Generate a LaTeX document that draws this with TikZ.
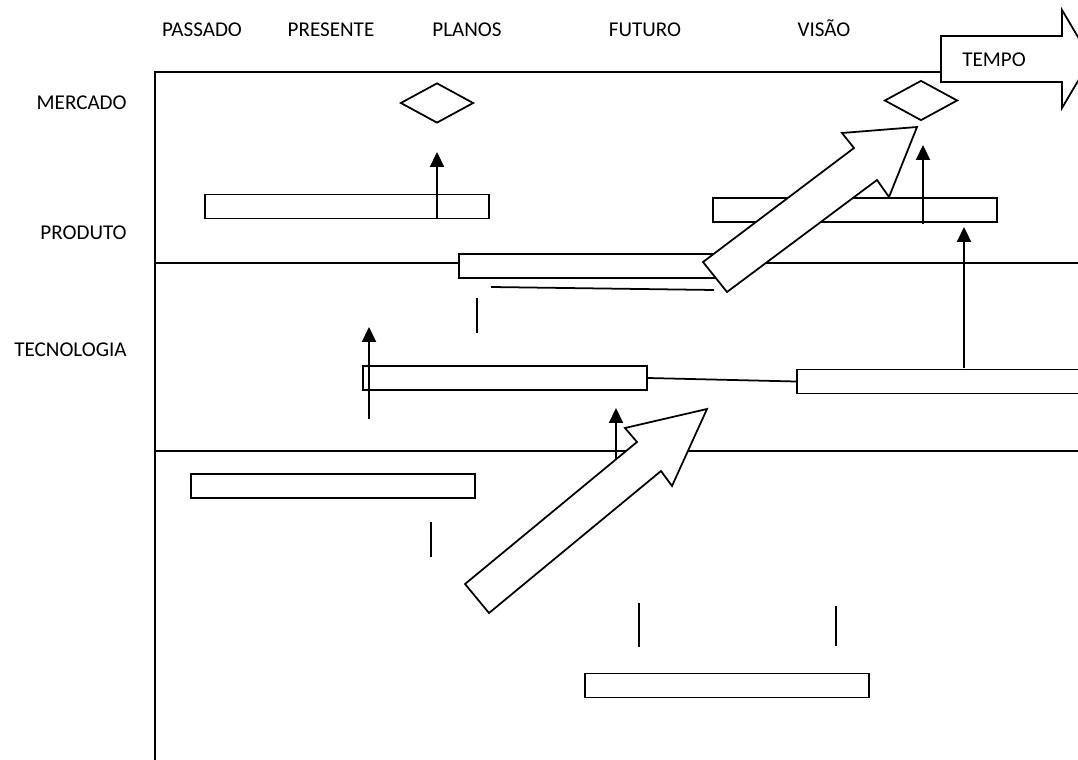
\documentclass[tikz,border=0pt]{standalone}
\usepackage{fontspec}
\setmainfont{Carlito}
\usetikzlibrary{arrows.meta,shapes.geometric}

\tikzset{
  bar/.style={draw, fill=white, line width=1.1pt, minimum width=5.68cm, minimum height=0.48cm, inner sep=0pt},
  gem/.style={draw, shape=diamond, fill=white, line width=1pt, minimum width=1.46cm, minimum height=0.8cm, inner sep=0pt},
  label/.style={font=\fontsize{12}{14}\selectfont, inner sep=0pt},
  up/.style={line width=1pt, -{Triangle[length=8.5pt, width=8pt]}},
  tick/.style={line width=1pt},
  bigarrow/.style={draw, fill=white, line width=1pt, line join=miter}
}

\begin{document}
\begin{tikzpicture}[x=0.02cm, y=-0.02cm]
  \clip (0,0) rectangle (1078,760);

  % Heading
  \node[label, anchor=base] (passado) at (202,37) {PASSADO};
  \node[label, anchor=base] (presente) at (331,37) {PRESENTE};
  \node[label, anchor=base] (planos) at (467,37) {PLANOS};
  \node[label, anchor=base] (futuro) at (645,37) {FUTURO};
  \node[label, anchor=base] (visao) at (824,37) {VISÃO};

  \node[label, anchor=east] (mercado) at (127,103) {MERCADO};
  \node[label, anchor=east] (produto) at (127,233) {PRODUTO};
  \node[label, anchor=east] (tecnologia) at (127,350) {TECNOLOGIA};

  % Grid
  \coordinate (g0) at (155,72);
  \coordinate (g1) at (941,72);
  \coordinate (g2) at (155,263);
  \coordinate (g3) at (1078,263);
  \coordinate (g4) at (155,451);
  \coordinate (g5) at (1078,451);
  \coordinate (g6) at (155,760);

  \draw[line width=1.1pt] (g1) -- (g0) -- (g6);
  \draw[line width=1.1pt] (g2) -- (g3);
  \draw[line width=1.1pt] (g4) -- (g5);

  % Tempo
  \draw[bigarrow] (941,36) -- (1062,36) -- (1062,10) -- (1091,59)
    -- (1062,108) -- (1062,82) -- (941,82) -- cycle;
  \node[label] (tempo) at (994,60) {TEMPO};

  % Bars
  \node[bar] (b1) at (347,206.5) {};
  \node[bar] (b2) at (855,210) {};
  \node[bar] (b3) at (601,266) {};
  \node[bar] (b4) at (505,378) {};
  \node[bar] (b5) at (939,381.5) {};
  \node[bar] (b6) at (333,486) {};
  \node[bar] (b7) at (727,685.5) {};

  \node[gem] (d1) at (437,103) {};
  \node[gem] (d2) at (921,100.5) {};

  % Ticks
  \coordinate (t1a) at (491,287);
  \coordinate (t1b) at (714,290);
  \coordinate (t2a) at (477,298);
  \coordinate (t2b) at (477,333);
  \coordinate (t3a) at (431,522);
  \coordinate (t3b) at (431,557);
  \coordinate (t4a) at (639,603);
  \coordinate (t4b) at (639,647);
  \coordinate (t5a) at (836,606);
  \coordinate (t5b) at (836,646);

  \draw[tick] (t1a) -- (t1b);
  \draw[tick] (t2a) -- (t2b);
  \draw[tick] (t3a) -- (t3b);
  \draw[tick] (t4a) -- (t4b);
  \draw[tick] (t5a) -- (t5b);
  \draw[tick] (b4.east) -- (b5.west);

  % Up arrows
  \coordinate (u1) at (437,152);
  \coordinate (u2a) at (923,224);
  \coordinate (u2) at (923,145);
  \coordinate (u3a) at (964,368);
  \coordinate (u3) at (964,227);
  \coordinate (u4a) at (369,419);
  \coordinate (u4) at (369,327);
  \coordinate (u5a) at (616,470);
  \coordinate (u5) at (616,408);

  \draw[up] (b1.south -| u1) -- (u1);
  \draw[up] (u2a) -- (u2);
  \draw[up] (u3a) -- (u3);
  \draw[up] (u4a) -- (u4);
  \draw[up] (u5a) -- (u5);

  % Big arrows
  \draw[bigarrow] (703,262) -- (854,148) -- (842,133) -- (917,127)
    -- (889,197) -- (877,180) -- (727,292) -- cycle;
  \draw[bigarrow] (465,584) -- (637,442) -- (625,428) -- (707,409)
    -- (672,486) -- (661,471) -- (489,613) -- cycle;
\end{tikzpicture}
\end{document}
